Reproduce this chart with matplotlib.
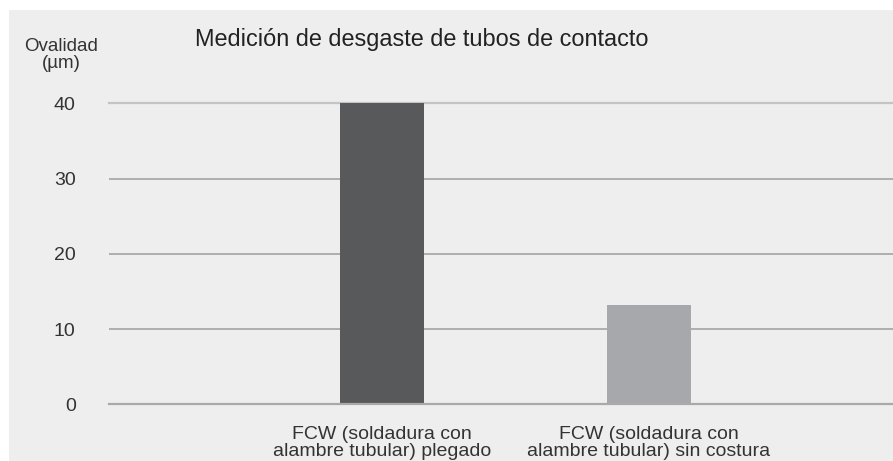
import matplotlib.pyplot as plt
from matplotlib.patches import Rectangle

plt.rcParams['font.family'] = ['Liberation Sans', 'DejaVu Sans']

# data
categories = ['FCW (soldadura con\nalambre tubular) plegado',
              'FCW (soldadura con\nalambre tubular) sin costura']
values = [40, 13.2]
bar_colors = ['#58595b', '#a7a8ab']
yticks = [0, 10, 20, 30, 40]

W, H = 893, 461
fig = plt.figure(figsize=(W / 100, H / 100), dpi=100, facecolor='white')

# grey panel behind everything
fig.patches.append(Rectangle((9 / W, 0), 1 - 9 / W, 1 - 10 / H,
                             transform=fig.transFigure, facecolor='#eeeeee',
                             edgecolor='none', zorder=-5))

ax = fig.add_axes([109 / W, 56.7 / H, 1 - 109 / W, (404.3 - 103.3) / H])
ax.set_facecolor('none')
ax.set_zorder(2)

x = list(range(len(categories)))
ax.bar(x, values, width=0.315, color=bar_colors, zorder=2)

ax.set_xlim(-1.022, 1.914)
ax.set_ylim(0, 40)
ax.set_yticks(yticks)
for t in yticks[1:-1]:
    ax.axhline(t, color='#9c9c9c', lw=1.1, zorder=1)
ax.axhline(40, color='#c4c4c4', lw=1.6, zorder=1, clip_on=False)
ax.axhline(0, color='#a9a9a9', lw=1.6, zorder=3, clip_on=False)

for s in ax.spines.values():
    s.set_visible(False)
ax.tick_params(axis='y', length=0, pad=24, labelsize=14, labelcolor='#333333')
ax.tick_params(axis='x', length=0, pad=15.5, labelsize=14, labelcolor='#333333')
ax.set_xticks(x)
ax.set_xticklabels(categories, linespacing=1.05)

fig.text(61 / W, 1 - 38 / H, 'Ovalidad\n(µm)', ha='center', va='top',
         fontsize=13.5, color='#333333', linespacing=1.0)
fig.text(195 / W, 1 - 46 / H, 'Medición de desgaste de tubos de contacto',
         ha='left', va='baseline', fontsize=16.9, color='#222222')

fig.savefig('out.png', dpi=100, facecolor='white')
